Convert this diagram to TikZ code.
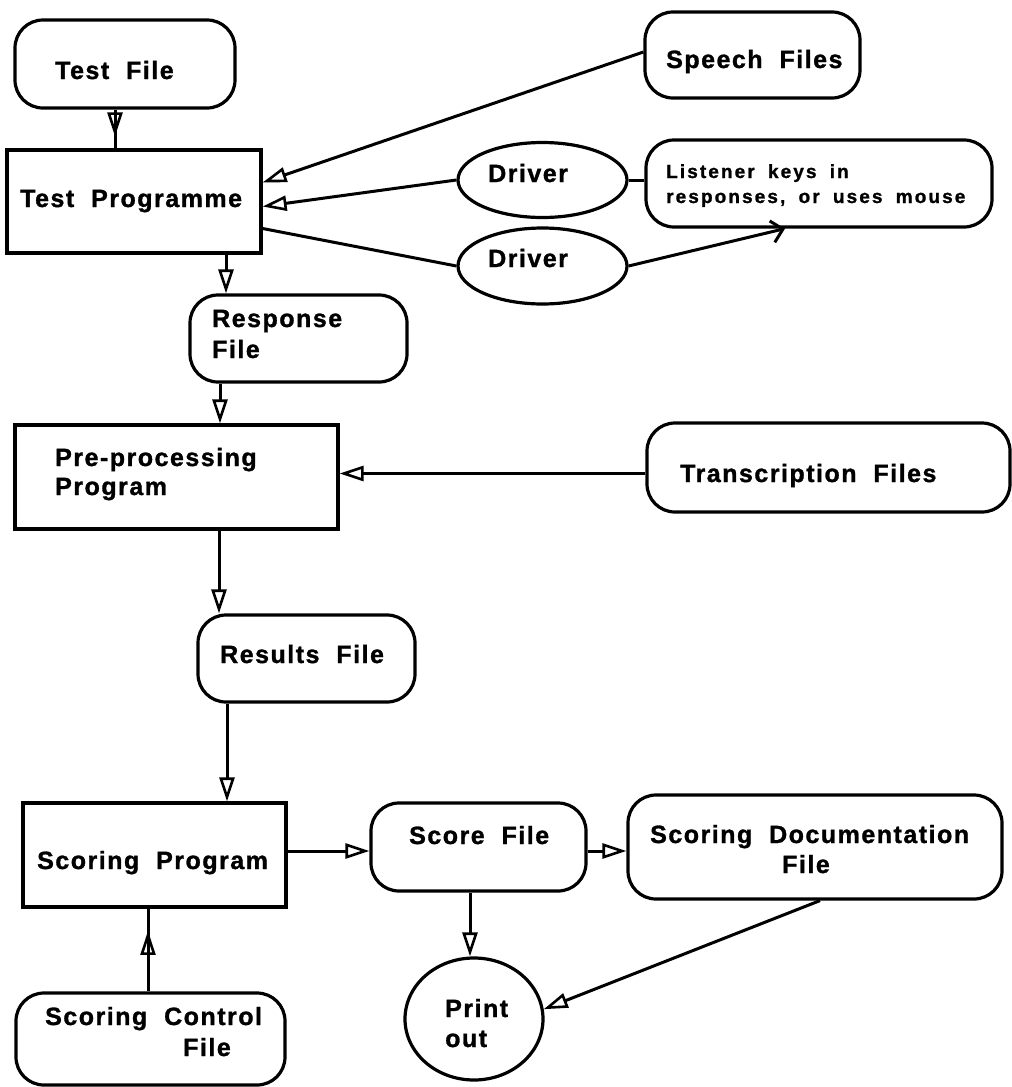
\documentclass[tikz,border=0pt]{standalone}
\usepackage{fontspec}
\usetikzlibrary{arrows.meta,shapes.geometric,decorations.markings}
\newfontfamily\lblfont[LetterSpace=6,WordSpace=2,BoldFeatures={FakeBold=1.2}]{Liberation Sans}
\newfontfamily\lblsmallfont[LetterSpace=11,WordSpace=1.8,BoldFeatures={FakeBold=1.2}]{Liberation Sans}
\begin{document}
\begin{tikzpicture}[x=1pt,y=-1pt,
  box/.style={draw, line width=3.2pt, inner sep=0pt},
  rbox/.style={box, rounded corners=28pt},
  oval/.style={box, ellipse},
  lbl/.style={anchor=base west, inner sep=0pt, font=\lblfont\bfseries\fontsize{25}{30}\selectfont},
  lblsmall/.style={anchor=base west, inner sep=0pt, font=\lblsmallfont\bfseries\fontsize{19}{25}\selectfont},
  conn/.style={line width=3pt},
  flow/.style={conn, -{Triangle[open,length=24pt,width=15pt,line width=2.6pt]}},
  barb/.style={conn, -{Straight Barb[length=11pt,width=22pt,line width=3pt]}},
  midflow/.style={conn, postaction={decorate, decoration={markings,
      mark=at position #1 with {\arrow{Triangle[open,length=24pt,width=15pt,line width=2.6pt]}}}}}
]
\useasboundingbox (0,0) rectangle (1012,1087);

% shapes
\node[rbox, minimum width=220pt, minimum height=88pt] (tfile) at (125,64) {};
\node[box,  minimum width=254pt, minimum height=103pt] (tprog) at (134,201.5) {};
\node[rbox, minimum width=215pt, minimum height=86pt] (speech) at (752.5,55) {};
\node[oval, minimum width=169pt, minimum height=75pt] (drv1) at (542.5,180) {};
\node[rbox, minimum width=346pt, minimum height=87pt] (listen) at (819,183.5) {};
\node[oval, minimum width=169pt, minimum height=76pt] (drv2) at (542.5,266) {};
\node[rbox, minimum width=217pt, minimum height=87pt] (resp) at (298.5,338.5) {};
\node[box,  minimum width=323pt, minimum height=104pt] (prep) at (176.5,477) {};
\node[rbox, minimum width=363pt, minimum height=89pt] (trans) at (828.5,467.5) {};
\node[rbox, minimum width=217pt, minimum height=87pt] (results) at (306.5,658.5) {};
\node[box,  minimum width=263pt, minimum height=104pt] (scprog) at (154.5,855) {};
\node[rbox, minimum width=215pt, minimum height=88pt] (sfile) at (478.5,847) {};
\node[rbox, minimum width=374pt, minimum height=104pt] (sdoc) at (815,847) {};
\node[rbox, minimum width=269pt, minimum height=92pt] (sctrl) at (150.5,1039) {};
\node[oval, minimum width=138pt, minimum height=122pt] (print) at (474,1019) {};

% texts
\node[lbl] (tfile-t) at (55,79) {Test File};
\node[lbl] (tprog-t) at (20,207) {Test Programme};
\node[lbl] (speech-t) at (666,68) {Speech Files};
\node[lbl] (drv1-t) at (488,182) {Driver};
\node[lbl] (drv2-t) at (488,267) {Driver};
\node[lblsmall] (listen-t1) at (666,178) {Listener keys in};
\node[lblsmall] (listen-t2) at (666,203) {responses, or uses mouse};
\node[lbl] (resp-t1) at (212,327) {Response};
\node[lbl] (resp-t2) at (212,358) {File};
\node[lbl] (prep-t1) at (55,466) {Pre-processing};
\node[lbl] (prep-t2) at (55,495) {Program};
\node[lbl] (trans-t) at (680,482) {Transcription Files};
\node[lbl] (results-t) at (220,663) {Results File};
\node[lbl] (scprog-t) at (37,869) {Scoring Program};
\node[lbl] (sfile-t) at (409,844) {Score File};
\node[lbl] (sdoc-t1) at (650,843) {Scoring Documentation};
\node[lbl] (sdoc-t2) at (782,873) {File};
\node[lbl] (sctrl-t1) at (45,1025) {Scoring Control};
\node[lbl] (sctrl-t2) at (183,1056) {File};
\node[lbl] (print-t1) at (445,1017) {Print};
\node[lbl] (print-t2) at (445,1047) {out};

% connectors
\draw[midflow=0.69] ([xshift=-10pt]tfile.south) -- ([xshift=-19pt]tprog.north);
\draw[flow] ([yshift=3pt]speech.west) -- ([yshift=19pt]tprog.east);
\draw[flow] (drv1.west) -- ([yshift=-5pt]tprog.east);
\draw[conn] (drv1.east) -- (drv1.east -| listen.west);
\draw[conn] ([yshift=-27pt]tprog.east) -- (drv2.west);
\draw[barb] (drv2.east) -- ([xshift=-34pt]listen.south);
\draw[flow] ([xshift=92pt]tprog.south) -- ([xshift=92pt]tprog.south |- resp.north);
\draw[flow] ([xshift=-78.5pt]resp.south) -- ([xshift=-78.5pt]resp.south |- prep.north);
\draw[flow] ([yshift=-6pt]trans.west) -- ([yshift=-6pt]trans.west -| prep.east);
\draw[flow] ([xshift=42.5pt]prep.south) -- ([xshift=42.5pt]prep.south |- results.north);
\draw[flow] ([xshift=-79.5pt]results.south) -- ([xshift=-79.5pt]results.south |- scprog.north);
\draw[midflow=0.73] ([xshift=-2.5pt]sctrl.north) -- ([xshift=-2.5pt]sctrl.north |- scprog.south);
\draw[flow] ([yshift=4pt]scprog.east) -- ([yshift=4pt]scprog.east -| sfile.west);
\draw[flow] ([yshift=-4pt]sfile.east) -- ([yshift=-4pt]sfile.east -| sdoc.west);
\draw[flow] ([xshift=-8.5pt]sfile.south) -- ([xshift=-8.5pt]sfile.south |- print.north);
\draw[flow] ([xshift=5pt]sdoc.south) -- (print.8);
\end{tikzpicture}
\end{document}
